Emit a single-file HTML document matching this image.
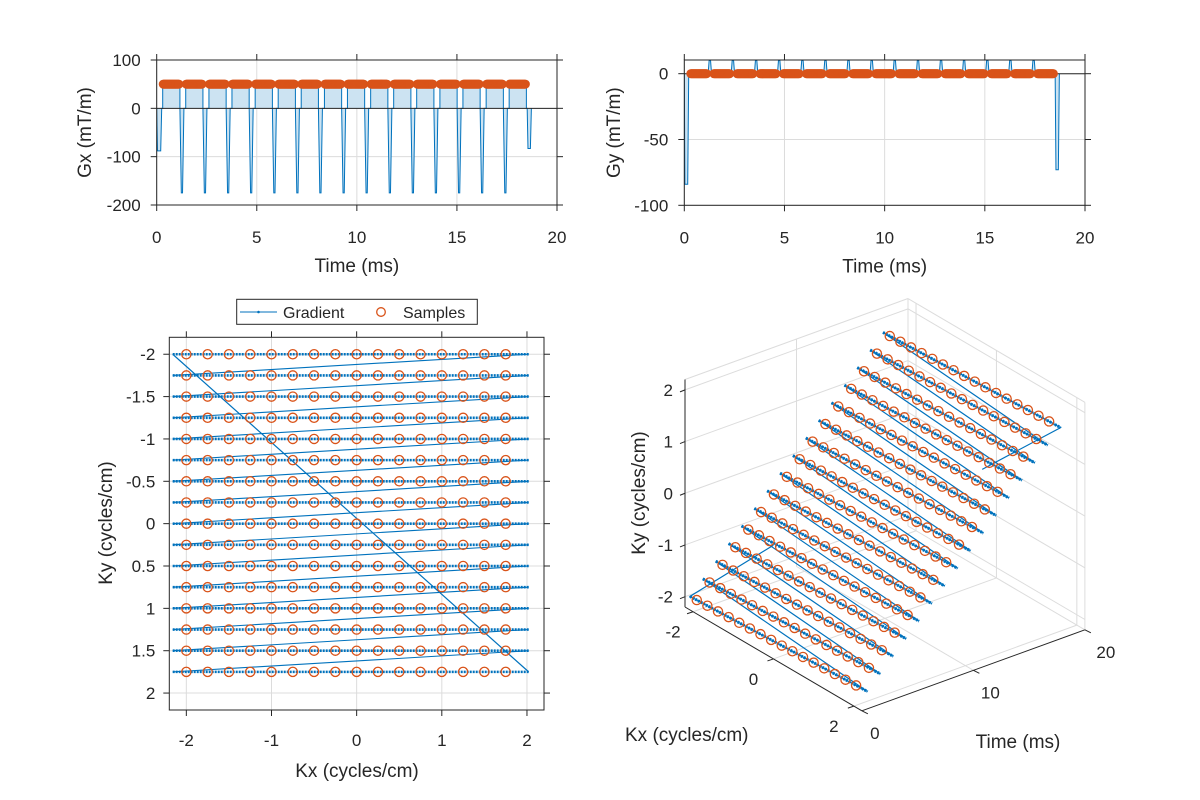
<!DOCTYPE html>
<html><head><meta charset="utf-8"><title>EPI trajectory</title>
<style>
html,body{margin:0;padding:0;background:#fff;}
svg{display:block;font-family:"Liberation Sans",Arial,sans-serif;}
text{fill:#262626;}
</style></head>
<body>
<svg id="fig" width="1200" height="800" viewBox="0 0 1200 800" xmlns="http://www.w3.org/2000/svg">
<defs>
<clipPath id="clipGx"><rect x="156.7" y="60" width="400.3" height="145"/></clipPath>
<clipPath id="clipGy"><rect x="684.3" y="60" width="400.7" height="145.3"/></clipPath>
<clipPath id="clipK"><rect x="169.3" y="337.3" width="374.7" height="372.7"/></clipPath>
</defs>
</svg>
<script>
// ---- data ----
const rowKy = [-2,-1.75,-1.5,-1.25,-1,-0.75,-0.5,-0.25,0,0.25,0.5,0.75,1,1.25,1.5,1.75];
const sampleKx = [-2,-1.75,-1.5,-1.25,-1,-0.75,-0.5,-0.25,0,0.25,0.5,0.75,1,1.25,1.5,1.75];
const rowStart = [0.30,1.45,2.61,3.76,4.92,6.07,7.22,8.38,9.53,10.69,11.84,12.99,14.15,15.30,16.46,17.61];
const rowEnd = [1.16,2.31,3.47,4.62,5.78,6.93,8.08,9.24,10.39,11.55,12.70,13.85,15.01,16.16,17.32,18.47];
const gxPlateau = [50];
const gxBlip = [-175];
const gxPrewind = [-88];
const gxRewind = [-83];
const gyBlip = [10];
const gyPrewind = [-84];
const gyRewind = [-73];
const kxLineStart = [-2.16];
const kxLineEnd = [2.02];
const timeTicks = [0,5,10,15,20];
const gxTicks = [100,0,-100,-200];
const gyTicks = [0,-50,-100];
const kxTicks = [-2,-1,0,1,2];
const kyTicks = [-2,-1.5,-1,-0.5,0,0.5,1,1.5,2];
const k3Ticks = [-2,0,2];
const t3Ticks = [0,10,20];

const NS = "http://www.w3.org/2000/svg";
const svg = document.getElementById('fig');
const BLUE = "#0072BD", ORANGE = "#D95319", GRID = "#dcdcdc", AX = "#262626";
const TL = 6;
function mk(tag, attrs, parent, txt){
  const e = document.createElementNS(NS, tag);
  for (const k in attrs) e.setAttribute(k, attrs[k]);
  if (txt !== undefined) e.textContent = txt;
  (parent || svg).appendChild(e);
  return e;
}
function grp(name){
  const g = mk('g', {});
  
  
  return g;
}

function gxWave(){
  const p = [[0,0],[0.04,gxPrewind[0]],[0.2,gxPrewind[0]],[0.25,0]];
  for (let i=0;i<rowStart.length;i++){
    const s=rowStart[i], e=rowEnd[i];
    p.push([s,0],[s,gxPlateau[0]],[e,gxPlateau[0]],[e,0]);
    if (i<rowStart.length-1) p.push([e+0.07,gxBlip[0]],[e+0.13,gxBlip[0]],[e+0.2,0]);
    else p.push([e+0.04,0],[e+0.08,gxRewind[0]],[e+0.2,gxRewind[0]],[e+0.25,0]);
  }
  return p;
}
function gyWave(){
  const p = [[0,0],[0.03,gyPrewind[0]],[0.17,gyPrewind[0]],[0.22,0]];
  for (let i=0;i<rowStart.length;i++){
    const s=rowStart[i], e=rowEnd[i];
    p.push([s,0],[e,0]);
    if (i<rowStart.length-1) p.push([e+0.03,0],[e+0.08,gyBlip[0]],[e+0.15,gyBlip[0]],[e+0.2,0]);
    else p.push([e+0.04,0],[e+0.08,gyRewind[0]],[e+0.2,gyRewind[0]],[e+0.25,0]);
  }
  return p;
}
function sampleTime(i,kx){
  return rowStart[i] + (kx-kxLineStart[0])/(kxLineEnd[0]-kxLineStart[0])*(rowEnd[i]-rowStart[i]);
}

function timePlot(cfg){
  const {x0,x1,y0,y1,ymin,ymax,ticks,wave,sampleVal,clip,name,label,labelX} = cfg;
  const X = t => x0 + (t-0)/(20-0)*(x1-x0);
  const Y = v => y1 - (v-ymin)/(ymax-ymin)*(y1-y0);
  const g = grp(name);
  const gg = mk('g',{},g);  
  timeTicks.forEach(t=>mk('line',{x1:X(t),x2:X(t),y1:y0,y2:y1,stroke:GRID,'stroke-width':1},gg));
  ticks.forEach(v=>mk('line',{x1:x0,x2:x1,y1:Y(v),y2:Y(v),stroke:GRID,'stroke-width':1},gg));
  const pts = wave.map(p=>X(p[0]).toFixed(2)+","+Y(p[1]).toFixed(2));
  const dataG = mk('g',{'clip-path':'url(#'+clip+')'},g);
  const area = mk('polygon',{points:X(0)+","+Y(0)+" "+pts.join(" ")+" "+X(wave[wave.length-1][0])+","+Y(0),fill:"#cce3f2",stroke:"none"},dataG);
  
  
  const ln = mk('polyline',{points:pts.join(" "),fill:"none",stroke:BLUE,'stroke-width':1},dataG);
  
  
  const base = mk('line',{x1:x0,x2:x1,y1:Y(0),y2:Y(0),stroke:AX,'stroke-width':1},dataG);
  
  
  const sg = mk('g',{},dataG);  
  for (let i=0;i<rowStart.length;i++){
    sampleKx.forEach(kx=>{
      const c = mk('circle',{cx:X(sampleTime(i,kx)),cy:Y(sampleVal),r:4.6,fill:ORANGE},sg);
      
      
    });
  }
  const ag = mk('g',{},g);  
  mk('rect',{x:x0,y:y0,width:x1-x0,height:y1-y0,fill:"none",stroke:AX,'stroke-width':1},ag);
  timeTicks.forEach(t=>{
    mk('line',{x1:X(t),x2:X(t),y1:y1,y2:y1+TL,stroke:AX},ag);
    mk('line',{x1:X(t),x2:X(t),y1:y0,y2:y0-TL,stroke:AX},ag);
    const tl = mk('text',{x:X(t),y:y1+38,'text-anchor':'middle','font-size':17},ag,String(t));
    
    
  });
  ticks.forEach(v=>{
    mk('line',{x1:x0,x2:x0-TL,y1:Y(v),y2:Y(v),stroke:AX},ag);
    mk('line',{x1:x1,x2:x1+TL,y1:Y(v),y2:Y(v),stroke:AX},ag);
    const tl = mk('text',{x:x0-16,y:Y(v)+6,'text-anchor':'end','font-size':17},ag,String(v));
    
    
  });
  const xl = mk('text',{x:(x0+x1)/2,y:y1+67,'text-anchor':'middle','font-size':19},g,"Time (ms)");
  
  
  const yc = (y0+y1)/2;
  const yl = mk('text',{x:labelX,y:yc,'text-anchor':'middle','font-size':19,transform:'rotate(-90 '+labelX+' '+yc+')'},g,label);
  
  
}
timePlot({x0:156.7,x1:557,y0:60,y1:205,ymin:-200,ymax:100,ticks:gxTicks,wave:gxWave(),sampleVal:gxPlateau[0],clip:'clipGx',name:'gx-plot',label:'Gx (mT/m)',labelX:91});
timePlot({x0:684.3,x1:1085,y0:60,y1:205.3,ymin:-100,ymax:10.4,ticks:gyTicks,wave:gyWave(),sampleVal:0,clip:'clipGy',name:'gy-plot',label:'Gy (mT/m)',labelX:620});

// ---- k-space 2D ----
(function(){
  const x0=169.3,x1=544,y0=337.3,y1=710;
  const X = k => x0 + (k+2.2)/4.4*(x1-x0);
  const Y = k => y0 + (k+2.2)/4.4*(y1-y0);
  const g = grp('kspace-plot');
  const gg = mk('g',{},g);  
  kxTicks.forEach(k=>mk('line',{x1:X(k),x2:X(k),y1:y0,y2:y1,stroke:GRID},gg));
  kyTicks.forEach(k=>mk('line',{x1:x0,x2:x1,y1:Y(k),y2:Y(k),stroke:GRID},gg));
  const dg = mk('g',{'clip-path':'url(#clipK)'},g);
  const lg = mk('g',{},dg);  
  const a=kxLineStart[0], b=kxLineEnd[0], n=rowKy.length;
  mk('line',{x1:X(a),y1:Y(rowKy[0]),x2:X(b),y2:Y(rowKy[n-1]),stroke:BLUE,'stroke-width':1.2},lg);
  for (let i=0;i<n;i++){
    mk('line',{x1:X(a),y1:Y(rowKy[i]),x2:X(b),y2:Y(rowKy[i]),stroke:BLUE,'stroke-width':2.6,'stroke-dasharray':'2 1'},lg);
    if (i<n-1) mk('line',{x1:X(b),y1:Y(rowKy[i]),x2:X(a),y2:Y(rowKy[i+1]),stroke:BLUE,'stroke-width':1.1},lg);
  }
  const sg = mk('g',{},dg);  
  rowKy.forEach(ky=>sampleKx.forEach(kx=>{
    const c = mk('circle',{cx:X(kx),cy:Y(ky),r:4.6,fill:'none',stroke:ORANGE,'stroke-width':1.3},sg);
    
    
  }));
  const ag = mk('g',{},g);  
  mk('rect',{x:x0,y:y0,width:x1-x0,height:y1-y0,fill:'none',stroke:AX},ag);
  kxTicks.forEach(k=>{
    mk('line',{x1:X(k),x2:X(k),y1:y1,y2:y1+TL,stroke:AX},ag);
    mk('line',{x1:X(k),x2:X(k),y1:y0,y2:y0-TL,stroke:AX},ag);
    const t = mk('text',{x:X(k),y:y1+36,'text-anchor':'middle','font-size':17},ag,String(k));
    
    
  });
  kyTicks.forEach(k=>{
    mk('line',{x1:x0,x2:x0-TL,y1:Y(k),y2:Y(k),stroke:AX},ag);
    mk('line',{x1:x1,x2:x1+TL,y1:Y(k),y2:Y(k),stroke:AX},ag);
    const t = mk('text',{x:x0-14,y:Y(k)+6,'text-anchor':'end','font-size':17},ag,String(k));
    
    
  });
  const xl = mk('text',{x:357,y:777,'text-anchor':'middle','font-size':19},g,"Kx (cycles/cm)");
  
  
  const yl = mk('text',{x:112,y:523,'text-anchor':'middle','font-size':19,transform:'rotate(-90 112 523)'},g,"Ky (cycles/cm)");
  
  
  const leg = mk('g',{},g);
  
  
  mk('rect',{x:236.7,y:299.3,width:240.6,height:25,fill:'#fff',stroke:AX},leg);
  const e1 = mk('g',{},leg);  
  mk('line',{x1:240,x2:277,y1:312,y2:312,stroke:BLUE,'stroke-width':1},e1);
  mk('circle',{cx:258.5,cy:312,r:1.3,fill:BLUE},e1);
  mk('text',{x:283,y:318,'font-size':16},e1,"Gradient");
  const e2 = mk('g',{},leg);  
  mk('circle',{cx:381,cy:312,r:4.3,fill:'none',stroke:ORANGE,'stroke-width':1.3},e2);
  mk('text',{x:403,y:318,'font-size':16},e2,"Samples");
})();

// ---- 3D plot ----
(function(){
  const P0=[685,607], vKx=[40.2,23.6], vT=[11.15,-4.05], vKy=[0,-51.7];
  function P(kx,t,ky){
    const a=kx+2.2, c=ky+2.2;
    return [P0[0]+a*vKx[0]+t*vT[0]+c*vKy[0], P0[1]+a*vKx[1]+t*vT[1]+c*vKy[1]];
  }
  function L(p,q,attrs,parent){
    const o={x1:p[0],y1:p[1],x2:q[0],y2:q[1]}; for(const k in attrs) o[k]=attrs[k];
    return mk('line',o,parent);
  }
  const g = grp('trajectory-3d-plot');
  const gg = mk('g',{},g);  
  const ga = {stroke:GRID,'stroke-width':1};
  k3Ticks.forEach(k=>L(P(k,0,-2.2),P(k,20,-2.2),ga,gg));
  t3Ticks.forEach(t=>L(P(-2.2,t,-2.2),P(2.2,t,-2.2),ga,gg));
  k3Ticks.concat([-1,1]).forEach(k=>L(P(-2.2,0,k),P(-2.2,20,k),ga,gg));
  t3Ticks.forEach(t=>L(P(-2.2,t,-2.2),P(-2.2,t,2.2),ga,gg));
  k3Ticks.concat([-1,1]).forEach(k=>L(P(-2.2,20,k),P(2.2,20,k),ga,gg));
  k3Ticks.forEach(k=>L(P(k,20,-2.2),P(k,20,2.2),ga,gg));
  L(P(-2.2,0,2.2),P(-2.2,20,2.2),ga,gg);
  L(P(-2.2,20,2.2),P(2.2,20,2.2),ga,gg);
  L(P(2.2,20,-2.2),P(2.2,20,2.2),ga,gg);
  const lg = mk('g',{},g);  
  const a=kxLineStart[0], b=kxLineEnd[0], n=rowKy.length;
  const pts=[P(0,0,0)];
  for (let i=0;i<n;i++){
    pts.push(P(a,rowStart[i],rowKy[i]));
    pts.push(P(b,rowEnd[i],rowKy[i]));
  }
  pts.push(P(0,rowEnd[n-1]+0.25,0));
  mk('polyline',{points:pts.map(p=>p[0].toFixed(1)+","+p[1].toFixed(1)).join(" "),fill:'none',stroke:BLUE,'stroke-width':1.2},lg);
  for (let i=0;i<n;i++){
    L(P(a,rowStart[i],rowKy[i]),P(b,rowEnd[i],rowKy[i]),{stroke:BLUE,'stroke-width':3,'stroke-dasharray':'2 1'},lg);
  }
  const sg = mk('g',{},g);  
  for (let i=0;i<n;i++){
    sampleKx.forEach(kx=>{
      const p=P(kx,sampleTime(i,kx),rowKy[i]);
      const c = mk('circle',{cx:p[0],cy:p[1],r:4.6,fill:'none',stroke:ORANGE,'stroke-width':1.3},sg);
      
      
    });
  }
  const ag = mk('g',{},g);  
  const aa={stroke:AX,'stroke-width':1};
  L(P(-2.2,0,-2.2),P(-2.2,0,2.2),aa,ag);
  L(P(-2.2,0,-2.2),P(2.2,0,-2.2),aa,ag);
  L(P(2.2,0,-2.2),P(2.2,20,-2.2),aa,ag);
  [-2,-1,0,1,2].forEach(k=>{
    const p=P(-2.2,0,k); L(p,[p[0]-5,p[1]+2],aa,ag);
    const t = mk('text',{x:p[0]-12,y:p[1]+6,'text-anchor':'end','font-size':17},ag,String(k));
    
    
  });
  k3Ticks.forEach(k=>{
    const p=P(k,0,-2.2); L(p,[p[0]-6,p[1]+2],aa,ag);
    const t = mk('text',{x:p[0]-20,y:p[1]+26,'text-anchor':'middle','font-size':17},ag,String(k));
    
    
  });
  t3Ticks.forEach(tt=>{
    const p=P(2.2,tt,-2.2); L(p,[p[0]+6,p[1]+3],aa,ag);
    const t = mk('text',{x:p[0]+13+tt*0.4,y:p[1]+28,'text-anchor':'middle','font-size':17},ag,String(tt));
    
    
  });
  const kl = mk('text',{x:625,y:741,'font-size':19},g,"Kx (cycles/cm)");
  
  
  const tl = mk('text',{x:1018,y:748,'text-anchor':'middle','font-size':19},g,"Time (ms)");
  
  
  const yl = mk('text',{x:645,y:493,'text-anchor':'middle','font-size':19,transform:'rotate(-90 645 493)'},g,"Ky (cycles/cm)");
  
  
})();
</script>
</body></html>
